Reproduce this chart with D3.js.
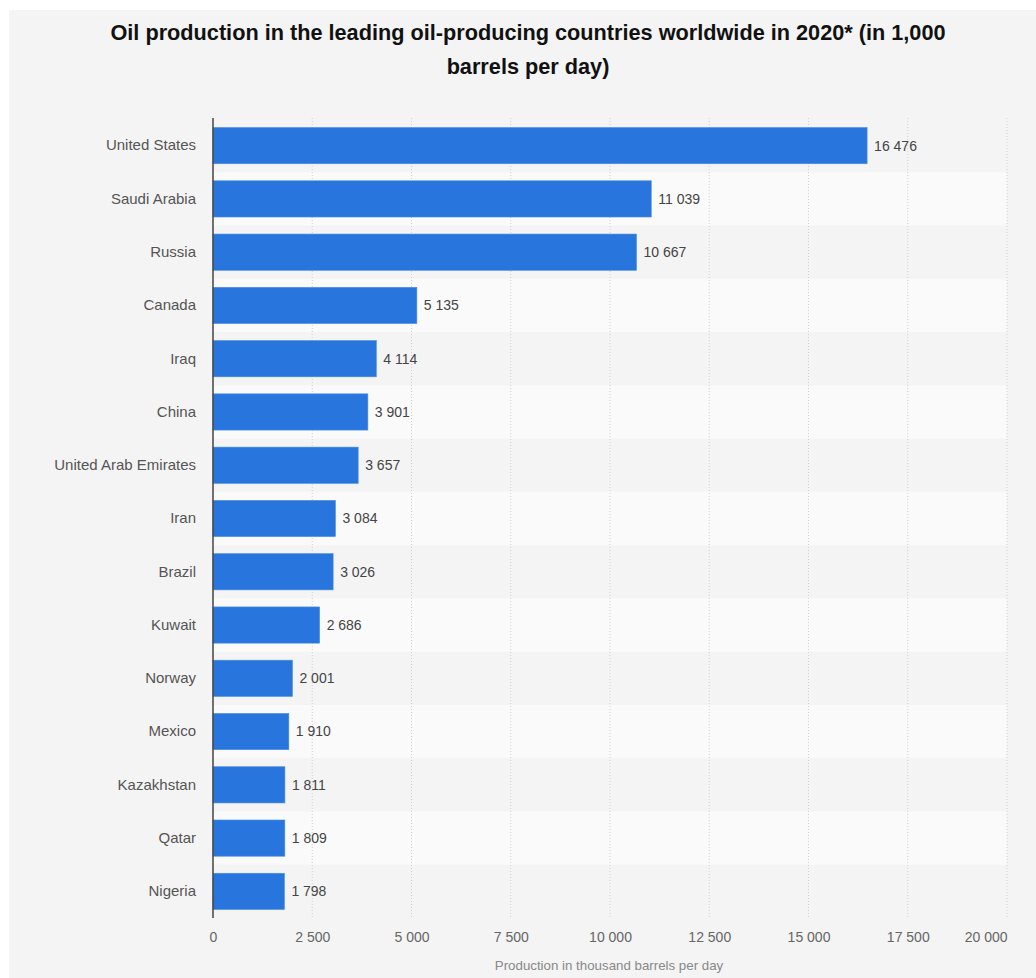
<!DOCTYPE html>
<html>
<head>
<meta charset="utf-8">
<script src="https://cdn.jsdelivr.net/npm/d3@7"></script>
<style>
  html, body { margin: 0; padding: 0; background: #ffffff; }
  svg { display: block; font-family: "Liberation Sans", Arial, Helvetica, sans-serif; }
</style>
</head>
<body>
<svg id="chart" width="1036" height="978"></svg>
<script>
// Oil production 2020, thousand barrels per day
const countries = ["United States", "Saudi Arabia", "Russia", "Canada", "Iraq", "China",
  "United Arab Emirates", "Iran", "Brazil", "Kuwait", "Norway", "Mexico",
  "Kazakhstan", "Qatar", "Nigeria"];
const production = [16476, 11039, 10667, 5135, 4114, 3901, 3657, 3084, 3026, 2686,
  2001, 1910, 1811, 1809, 1798];
const xTicks = [0, 2500, 5000, 7500, 10000, 12500, 15000, 17500, 20000];

const titleLines = ["Oil production in the leading oil-producing countries worldwide in 2020* (in 1,000",
  "barrels per day)"];
const xAxisTitle = "Production in thousand barrels per day";

const rows = countries.map((c, i) => ({ country: c, value: production[i] }));

const fmt = d3.formatLocale({ decimal: ".", thousands: " ", grouping: [3], currency: ["", ""] }).format(",d");

const svg = d3.select("#chart");

// panel background
svg.append("rect").attr("x", 9).attr("y", 10).attr("width", 1027).attr("height", 968).attr("fill", "#f4f4f4");

const x = d3.scaleLinear().domain([0, 20000]).range([213, 1007]);
const y = d3.scaleBand().domain(countries).range([119, 918]).paddingInner(0.32).paddingOuter(0.16);

// alternating row stripes
const step = y.step();
svg.append("g").selectAll("rect").data(countries.filter((d, i) => i % 2 === 1)).join("rect")
  .attr("x", x(0)).attr("width", x(20000) - x(0))
  .attr("y", d => y(d) - y.paddingInner() * step / 2)
  .attr("height", step)
  .attr("fill", "#fafafa");

// vertical dotted gridlines
svg.append("g").selectAll("line").data(xTicks.filter(d => d > 0)).join("line")
  .attr("x1", d => x(d)).attr("x2", d => x(d))
  .attr("y1", 118).attr("y2", 918)
  .attr("stroke", "#cfcfcf").attr("stroke-width", 1)
  .attr("stroke-dasharray", "1,2");

// bars
svg.append("g").selectAll("rect").data(rows).join("rect")
  .attr("x", x(0))
  .attr("y", d => y(d.country))
  .attr("width", d => x(d.value) - x(0))
  .attr("height", y.bandwidth())
  .attr("fill", "#2876dd")
  .attr("stroke", "#4a8ce3").attr("stroke-width", 0.6);

// value labels
svg.append("g").selectAll("text").data(rows).join("text")
  .attr("x", d => x(d.value) + 7)
  .attr("y", d => y(d.country) + y.bandwidth() / 2)
  .attr("dy", "0.35em")
  .attr("font-size", 14).attr("fill", "#444")
  .text(d => fmt(d.value));

// category axis
const yAxis = svg.append("g").attr("transform", `translate(${x(0)},0)`)
  .call(d3.axisLeft(y).tickSize(0).tickPadding(17));
yAxis.select(".domain").attr("stroke", "#444").attr("stroke-width", 1.5)
  .attr("d", "M0,118V918");
yAxis.selectAll("text").attr("font-size", 15).attr("fill", "#555")
  .attr("font-family", "\"Liberation Sans\", Arial, sans-serif");

// value axis
const xAxis = svg.append("g").attr("transform", "translate(0,918)")
  .call(d3.axisBottom(x).tickValues(xTicks).tickSize(0).tickPadding(14).tickFormat(d => fmt(d)));
xAxis.select(".domain").remove();
xAxis.selectAll("text").attr("font-size", 14).attr("fill", "#666")
  .attr("font-family", "\"Liberation Sans\", Arial, sans-serif")
  .attr("text-anchor", d => d === 20000 ? "end" : "middle");

svg.append("text")
  .attr("x", 609).attr("y", 970)
  .attr("text-anchor", "middle")
  .attr("font-size", 13.3).attr("fill", "#888")
  .text(xAxisTitle);

// title
svg.append("g").selectAll("text").data(titleLines).join("text")
  .attr("x", 528).attr("y", (d, i) => 40 + i * 34)
  .attr("text-anchor", "middle")
  .attr("font-size", 21.7).attr("font-weight", "bold").attr("fill", "#111")
  .text(d => d);
</script>
</body>
</html>
